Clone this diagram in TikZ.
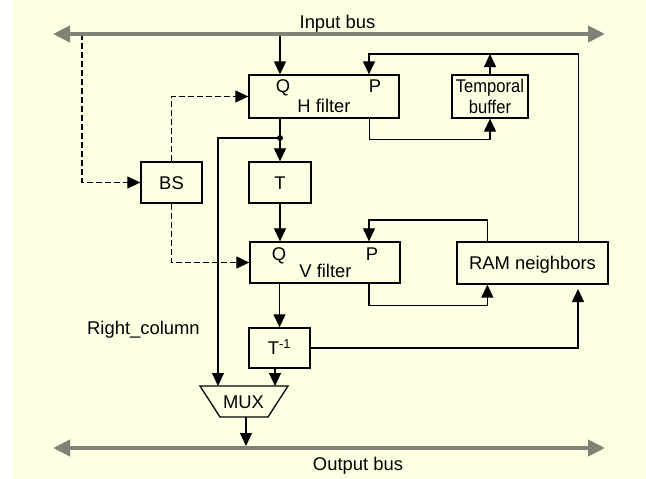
\documentclass[tikz,border=0pt]{standalone}
\usepackage{fontspec}
\setmainfont{Liberation Sans}
\newfontfamily\narrowfont[FakeStretch=0.9]{Liberation Sans}
\usetikzlibrary{arrows.meta}
\definecolor{bgcream}{RGB}{255,255,228}
\definecolor{busgray}{RGB}{128,130,118}

\begin{document}
\begin{tikzpicture}[x=1pt,y=-1pt,
    font=\fontsize{18.4}{21}\selectfont,
    block/.style={draw, line width=1.3pt, inner sep=0pt},
    boxtext/.style={text height=13pt, text depth=0pt},
    txt/.style={anchor=base, inner sep=0pt},
    wire/.style={line width=1.2pt, -{Triangle[length=13pt,width=12pt]}},
    dwire/.style={wire, dash pattern=on 6pt off 3pt},
    bus/.style={line width=4pt, busgray,
      {Triangle[length=17pt,width=16pt]}-{Triangle[length=17pt,width=16pt]}}]
    \useasboundingbox (0,0) rectangle (646,479);
    % Background
    \fill[bgcream] (12,0) rectangle (646,479);
    % Blocks
    \node[block, minimum width=150pt, minimum height=43pt] (hfilter) at (324,96.5) {};
    \node[block, minimum width=76pt, minimum height=43pt, align=center,
      font=\narrowfont\fontsize{18.4}{21.6}\selectfont] (tbuf) at (490,96.5) {Temporal\\buffer};
    \node[block, boxtext, minimum width=61pt, minimum height=41pt] (bs) at (171.5,182.5) {BS};
    \node[block, boxtext, minimum width=62pt, minimum height=41pt] (tbox) at (280,182.5) {T};
    \node[block, minimum width=150pt, minimum height=41pt] (vfilter) at (325,262.5) {};
    \node[block, boxtext, minimum width=151pt, minimum height=42pt] (ram) at (532.5,263) {RAM neighbors};
    \node[block, boxtext, minimum width=61pt, minimum height=40pt] (tinv) at (279.5,348) {T\textsuperscript{-1}};
    % MUX
    \draw[line width=1.3pt] (200,386) -- (288,386) -- (268,417) -- (220,417) -- cycle;
    \node[txt] (mux) at (243.5,408) {MUX};
    % Labels
    \node[txt] (hq) at (283,92) {Q};
    \node[txt] (hp) at (375,92) {P};
    \node[txt] (hname) at (324,112.7) {H filter};
    \node[txt] (vq) at (279,260.5) {Q};
    \node[txt] (vp) at (372,260.5) {P};
    \node[txt] (vname) at (325.5,277) {V filter};
    \node[txt, anchor=base west] (rclbl) at (87,334) {Right\_column};
    \node[txt] (inlbl) at (337.5,28) {Input bus};
    \node[txt] (outlbl) at (358,470) {Output bus};
    % Points on buses and loops
    \coordinate (inW) at (53,34);
    \coordinate (inE) at (605,34);
    \coordinate (outW) at (53,448);
    \coordinate (outE) at (605,448);
    \coordinate (bstap) at (82,34);
    \coordinate (split) at (280,138);
    \coordinate (hloop) at (369,54);
    \coordinate (vloop) at (369,220);
    \coordinate (ramin) at (578,289);
    \coordinate (muxa) at (218,386);
    \coordinate (muxb) at (275,386);
    \coordinate (muxc) at (246,417);
    \coordinate (muxo) at (246,446);
    % Data path
    \draw[wire] (inW -| tbox) -- (tbox |- hfilter.north);
    \draw[wire] (tbox |- hfilter.south) -- (tbox.north);
    \fill (split) circle (3pt);
    \draw[wire] (split) -| (muxa);
    \draw[wire] (tbox.south) -- (tbox |- vfilter.north);
    \draw[wire] (tinv |- vfilter.south) -- (tinv.north);
    \draw[wire] (tinv.south -| muxb) -- (muxb);
    \draw[wire] (muxc) -- (muxo);
    % Block size control (dashed)
    \draw[dwire] (bstap) |- (bs.west);
    \draw[dwire] (bs.north) |- (hfilter.west);
    \draw[dwire] (bs.south) |- (vfilter.west);
    % P loops
    \draw[wire] ([xshift=-30pt]hfilter.south east) -- ++(0,21) -| (tbuf.south);
    \draw[wire] (tbuf.north) -- (tbuf.north |- hloop);
    \draw[wire] ([xshift=-30pt]ram.north east) |- (hloop) -- (hloop |- hfilter.north);
    \draw[wire] ([xshift=31pt]ram.north west) |- (vloop) -- (vloop |- vfilter.north);
    \draw[wire] (vloop |- vfilter.south) -- ++(0,22) -| ([xshift=31pt]ram.south west);
    \draw[wire] (tinv.east) -| (ramin);
    % Buses
    \draw[bus] (inW) -- (inE);
    \draw[bus] (outW) -- (outE);
\end{tikzpicture}
\end{document}
